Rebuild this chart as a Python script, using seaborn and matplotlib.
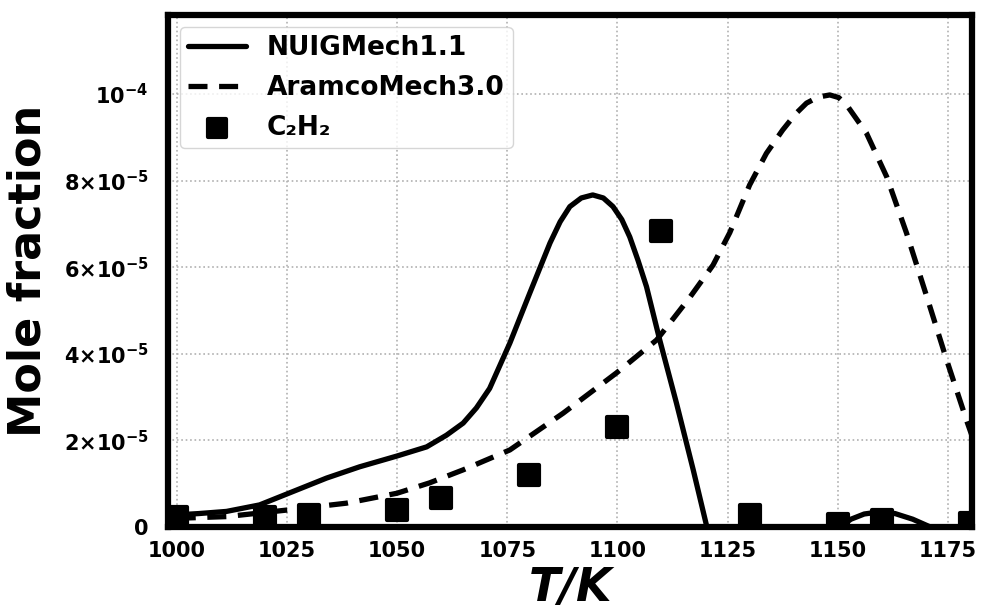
import pandas as pd
import matplotlib
matplotlib.use("Agg")
import matplotlib.pyplot as plt
import seaborn as sns

# NUIGMech1.1 model curve
nuig_T = [1000, 1005, 1011.3, 1018.8, 1026.4, 1034, 1041.5, 1050, 1056.7,
          1061.2, 1065, 1068, 1071, 1075.6, 1080.1, 1084.7, 1087, 1089.2,
          1091.8, 1094.4, 1096.8, 1099, 1101, 1102.8, 1104.7, 1106.6, 1109.6,
          1113.4, 1117.2, 1120.3, 1125, 1135, 1145, 1148, 1150.5, 1153,
          1156, 1159.6, 1163, 1167, 1171, 1175, 1181]
nuig_x = [2.8e-6, 3.1e-6, 3.6e-6, 5.1e-6, 8.2e-6, 1.13e-5, 1.39e-5, 1.64e-5,
          1.85e-5, 2.12e-5, 2.4e-5, 2.75e-5, 3.2e-5, 4.25e-5, 5.4e-5,
          6.56e-5, 7.05e-5, 7.4e-5, 7.6e-5, 7.67e-5, 7.6e-5, 7.4e-5, 7.1e-5,
          6.7e-5, 6.15e-5, 5.55e-5, 4.32e-5, 2.86e-5, 1.32e-5, 0.0, -1.2e-5,
          -1.5e-5, -6e-6, -2.5e-6, 0.0, 1.8e-6, 3.0e-6, 3.5e-6, 3.1e-6,
          1.8e-6, 0.0, -2e-6, -5e-6]

# AramcoMech3.0 model curve
aramco_T = [1000, 1011.3, 1024.9, 1038.5, 1050, 1057.4, 1065, 1075.6, 1087.7,
            1099.8, 1108.9, 1116.4, 1121.7, 1125.5, 1130, 1133.8, 1137.5,
            1140.5, 1142.9, 1145.5, 1148.2, 1150.2, 1152, 1156.5, 1161.1,
            1165.6, 1170.2, 1174.7, 1179.2, 1181]
aramco_x = [2.0e-6, 2.4e-6, 3.9e-6, 5.5e-6, 7.8e-6, 1.02e-5, 1.32e-5, 1.78e-5,
            2.63e-5, 3.56e-5, 4.32e-5, 5.3e-5, 6.05e-5, 6.8e-5, 7.9e-5,
            8.63e-5, 9.17e-5, 9.55e-5, 9.79e-5, 9.93e-5, 9.98e-5, 9.92e-5,
            9.75e-5, 9.1e-5, 8.09e-5, 6.79e-5, 5.32e-5, 3.86e-5, 2.47e-5, 1.95e-5]

# C2H2 measurements
exp_T = [1000, 1020, 1030, 1050, 1060, 1080, 1100, 1110, 1130, 1150, 1160, 1180]
exp_x = [2.4e-6, 2.4e-6, 2.8e-6, 3.9e-6, 6.7e-6, 1.2e-5, 2.32e-5, 6.84e-5,
         2.8e-6, 0.7e-6, 1.5e-6, 1.0e-6]

x_ticks = [1000, 1025, 1050, 1075, 1100, 1125, 1150, 1175]
y_ticks = [0, 2e-5, 4e-5, 6e-5, 8e-5, 1e-4]
y_tick_labels = ["0", r"$2{\times}10^{-5}$", r"$4{\times}10^{-5}$",
                 r"$6{\times}10^{-5}$", r"$8{\times}10^{-5}$", r"$10^{-4}$"]

sns.set_style("whitegrid")
plt.rcParams["font.family"] = ["DejaVu Sans"]
plt.rcParams["mathtext.default"] = "bf"
plt.rcParams["text.color"] = "black"
plt.rcParams["axes.labelcolor"] = "black"
plt.rcParams["xtick.color"] = "black"
plt.rcParams["ytick.color"] = "black"

fig = plt.figure(figsize=(9.82, 6.11), dpi=100)
ax = fig.add_axes([0.171, 0.1375, 0.819, 0.8375])

nuig = pd.DataFrame({"T": nuig_T, "X": nuig_x})
aramco = pd.DataFrame({"T": aramco_T, "X": aramco_x})
exp = pd.DataFrame({"T": exp_T, "X": exp_x})

sns.lineplot(data=nuig, x="T", y="X", ax=ax, color="black", lw=3.8,
             label="NUIGMech1.1", sort=False)
sns.lineplot(data=aramco, x="T", y="X", ax=ax, color="black", lw=3.8,
             label="AramcoMech3.0", sort=False)
ax.lines[-1].set_dashes([3.6, 2.2])
sns.scatterplot(data=exp, x="T", y="X", ax=ax, color="black", marker="s",
                s=190, edgecolor="black", linewidth=3, label="C₂H₂", zorder=5)
ax.collections[-1].set_joinstyle("round")

ax.set_xlim(998, 1180.5)
ax.set_ylim(0, 1.182e-4)
ax.set_xticks(x_ticks)
ax.set_yticks(y_ticks)
ax.set_yticklabels(y_tick_labels)
for lab in ax.get_xticklabels() + ax.get_yticklabels():
    lab.set_fontweight("bold")
    lab.set_fontsize(15)

ax.grid(True, color="#b0b0b0", linestyle=":", linewidth=1.2)
for sp in ax.spines.values():
    sp.set_color("black")
    sp.set_linewidth(4.5)
ax.tick_params(axis="x", direction="out", length=7, width=3.5, color="black", pad=3)
ax.tick_params(axis="y", length=0, pad=14)

ax.set_xlabel("T/K", fontsize=33, fontweight="bold", fontstyle="italic", labelpad=4)
ax.set_ylabel("Mole fraction", fontsize=32, fontweight="bold", labelpad=10)

leg = ax.legend(loc="upper left", prop={"weight": "bold", "size": 19},
                handlelength=2.2, borderpad=0.3, labelspacing=0.52,
                markerscale=0.9, frameon=True, fancybox=True, borderaxespad=0.45)
leg.get_frame().set_edgecolor("#cccccc")
leg.get_frame().set_linewidth(1)

fig.savefig("out.png", dpi=100)
